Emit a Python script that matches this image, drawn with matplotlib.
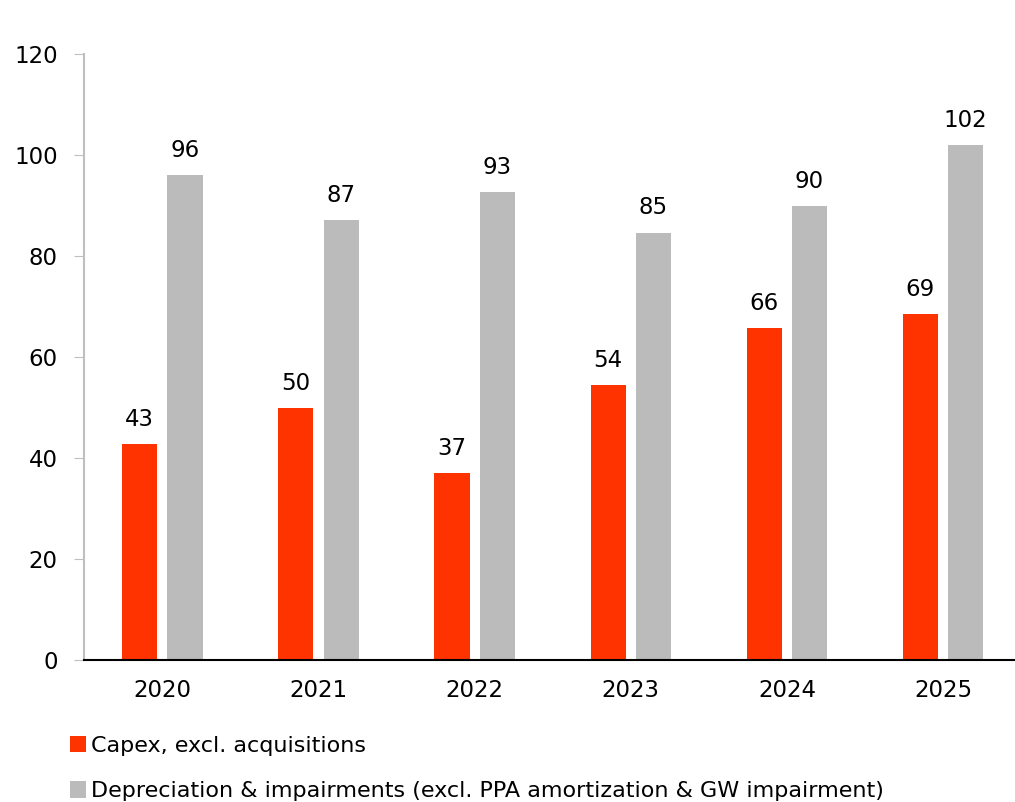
import numpy as np
import matplotlib.pyplot as plt

years = ['2020', '2021', '2022', '2023', '2024', '2025']
capex = [42.8, 49.8, 37.0, 54.4, 65.7, 68.5]
depr = [96.0, 87.0, 92.6, 84.6, 89.8, 102.0]
capex_lbl = [43, 50, 37, 54, 66, 69]
depr_lbl = [96, 87, 93, 85, 90, 102]

plt.rcParams['font.family'] = ['DejaVu Sans']

fig = plt.figure(figsize=(10.15, 8.02), dpi=100)
ax = fig.add_axes([0.083, 0.177, 0.923, 0.756])

x = np.arange(len(years))
w = 0.225
off = 0.145
b1 = ax.bar(x - off, capex, w, color='#FF3300', label='Capex, excl. acquisitions')
b2 = ax.bar(x + off, depr, w, color='#BBBBBB',
            label='Depreciation & impairments (excl. PPA amortization & GW impairment)')

for bars, lbls in [(b1, capex_lbl), (b2, depr_lbl)]:
    for r, l in zip(bars, lbls):
        ax.text(r.get_x() + r.get_width() / 2, r.get_height() + 2.6, str(l),
                ha='center', va='bottom', fontsize=16.5)

ax.set_xlim(-0.5, 5.5)
ax.set_ylim(0, 120)
ax.set_yticks(range(0, 121, 20))
ax.set_xticks(x)
ax.set_xticklabels(years)
ax.tick_params(axis='y', length=7, color='#BFBFBF', labelsize=16.5, pad=12)
ax.tick_params(axis='x', length=0, labelsize=16.5, pad=14)
for s in ['top', 'right']:
    ax.spines[s].set_visible(False)
ax.spines['left'].set_color('#BFBFBF')
ax.spines['left'].set_linewidth(1.5)
ax.spines['bottom'].set_color('black')
ax.spines['bottom'].set_linewidth(1.5)
ax.spines['bottom'].set_zorder(5)

ax.legend(loc='upper left', bbox_to_anchor=(-0.025, -0.11), frameon=False,
          fontsize=16, handlelength=0.75, handleheight=0.75, handletextpad=0.2,
          labelspacing=1.15, borderaxespad=0)

fig.savefig('out.png', dpi=100)
